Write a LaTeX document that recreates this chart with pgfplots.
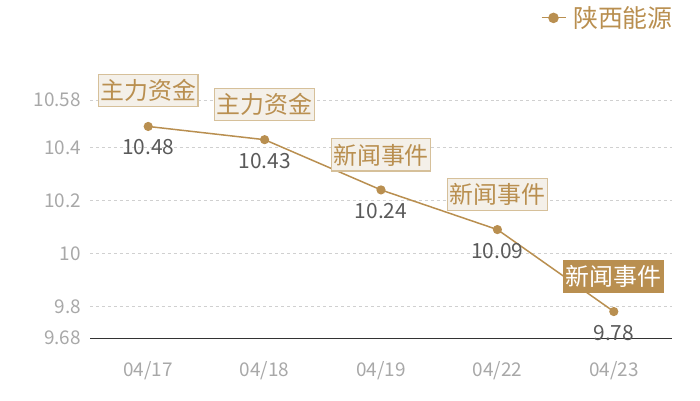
\documentclass[border=0pt]{standalone}
\usepackage{pgfplots}
\pgfplotsset{compat=1.18}
\usepackage{fontspec}
\setmainfont{Noto Sans CJK SC}
\definecolor{gold}{RGB}{185,143,80}
\definecolor{boxfill}{RGB}{244,240,233}
\definecolor{boxdraw}{RGB}{214,192,154}
\definecolor{valgray}{RGB}{90,90,90}
\definecolor{tickgray}{RGB}{168,168,168}
\definecolor{gridgray}{RGB}{208,208,208}
\definecolor{axisdark}{RGB}{51,51,51}
\begin{document}
\begin{tikzpicture}[x=1bp,y=1bp]
\path[use as bounding box] (0,0) rectangle (700,400);
\begin{axis}[
    at={(90bp,62bp)}, anchor=south west,
    width=582bp, height=238bp, scale only axis,
    xmin=-0.5, xmax=4.5, ymin=9.68, ymax=10.58,
    xtick={0,1,2,3,4},
    xticklabels={04/17,04/18,04/19,04/22,04/23},
    ytick={9.68,9.8,10,10.2,10.4,10.58},
    yticklabels={9.68,9.8,10,10.2,10.4,10.58},
    axis x line=bottom, axis y line=left,
    axis line style={-},
    x axis line style={draw=axisdark, line width=0.8bp},
    y axis line style={draw=none},
    major tick length=0pt,
    ymajorgrids, grid style={dashed, gridgray, line width=0.5bp},
    xticklabel style={anchor=center, yshift=-33bp, text=tickgray, font=\fontsize{19}{19}\selectfont},
    yticklabel style={anchor=east, inner sep=0pt, xshift=-9bp, text=tickgray, font=\fontsize{19}{19}\selectfont},
    /pgf/number format/assume math mode=true,
    clip=false,
    legend style={at={(axis description cs:1.005,1.345)}, anchor=east, draw=none, fill=none,
        inner sep=0pt, font=\fontsize{25}{25}\selectfont, text=gold,
        legend cell align=left,
        /tikz/every even column/.append style={column sep=6bp}},
    legend image code/.code={
        \draw[gold, line width=1.2bp] (0bp,0bp) -- (24bp,0bp);
        \fill[gold] (12bp,0bp) circle (4.5bp);
    },
]
\addplot[color=gold, line width=1.5bp, mark=*, mark size=3.8bp,
    mark options={fill=gold, draw=gold},
    nodes near coords,
    every node near coord/.append style={anchor=center, yshift=-21bp, text=valgray,
        font=\fontsize{21}{21}\selectfont, /pgf/number format/fixed, /pgf/number format/precision=2},
] coordinates {(0,10.48) (1,10.43) (2,10.24) (3,10.09) (4,9.78)};
\addlegendentry{\hspace{5bp}陕西能源}
\tikzset{evt/.style={draw=boxdraw, fill=boxfill, text=gold, line width=1.2bp,
    inner xsep=2bp, inner ysep=5bp, font=\fontsize{24}{24}\selectfont, anchor=center}}
\node[evt, yshift=36bp] at (axis cs:0,10.48) {主力资金};
\node[evt, yshift=35bp] at (axis cs:1,10.43) {主力资金};
\node[evt, yshift=35bp] at (axis cs:2,10.24) {新闻事件};
\node[evt, yshift=35bp] at (axis cs:3,10.09) {新闻事件};
\node[evt, yshift=35bp, fill=gold, draw=gold, text=white] at (axis cs:4,9.78) {新闻事件};
\end{axis}
\end{tikzpicture}
\end{document}
